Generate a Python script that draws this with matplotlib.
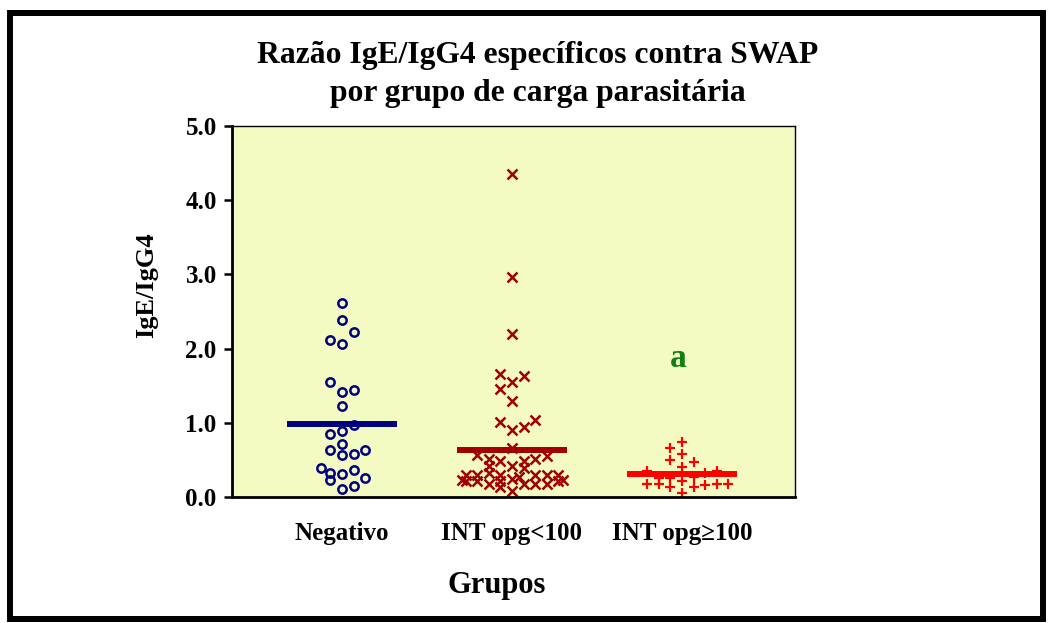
import numpy as np
import matplotlib
matplotlib.use("Agg")
import matplotlib.pyplot as plt
from matplotlib.patches import Rectangle

plt.rcParams['font.family'] = ['Liberation Serif', 'DejaVu Serif']
plt.rcParams['font.weight'] = 'bold'

groups = ['Negativo', 'INT opg<100', 'INT opg\u2265100']

# values, with the column each point sits in
neg_vals = [2.62, 2.38, 2.22, 2.11, 2.06, 1.55, 1.41, 1.44, 1.23, 0.97,
            0.89, 0.85, 0.71, 0.63, 0.58, 0.56, 0.63, 0.39, 0.33, 0.23,
            0.31, 0.36, 0.25, 0.11, 0.15]
neg_col = [0, 0, 1, -1, 0, -1, 0, 1, 0, 1,
           0, -1, 0, -1, 1, 0, 2, -1.8, -1, -1,
           0, 1, 2, 0, 1]

low_vals = [4.35, 2.96, 2.20, 1.66, 1.63, 1.55, 1.45, 1.30, 1.01, 1.04,
            0.90, 0.94, 0.66, 0.57, 0.55, 0.51, 0.48, 0.48, 0.51, 0.42,
            0.42, 0.39, 0.30, 0.30, 0.33, 0.30, 0.30, 0.30, 0.30, 0.23,
            0.21, 0.18, 0.21, 0.24, 0.27, 0.18, 0.18, 0.18, 0.21, 0.23,
            0.08, 0.14, 0.21]
low_col = [0, 0, 0, -1, 1, 0, -1, 0, -1, 2,
           0, 1, 0, -3, 3, -2, -1, 1, 2, -2,
           0, 1, -4, -3, -2, -1, 2, 3, 4, -4.3,
           -3, -2, -1, 0, 0.6, 1, 2, 3, 4, 4.4,
           0, -1, -4]

high_vals = [0.74, 0.66, 0.58, 0.50, 0.47, 0.40, 0.35, 0.35, 0.32, 0.25,
             0.25, 0.27, 0.22, 0.18, 0.18, 0.18, 0.18, 0.14, 0.14, 0.16,
             0.06]
high_col = [0, -1, 0, -1, 1, 0, -3, 3, 2, -2,
            -1, 1, 0, -3, -2, 3, 4, -1, 1, 2,
            0]

means = [0.98, 0.63, 0.31]
yticks = [0.0, 1.0, 2.0, 3.0, 4.0, 5.0]

colors = ['#000080', '#A00000', '#FF0000']
step = 0.068

fig = plt.figure(figsize=(10.51, 6.23), dpi=100)
ax = fig.add_axes([232 / 1051, 1 - 497 / 623, 563 / 1051, 371 / 623])
ax.set_facecolor('#F4FBC2')

ax.plot(1 + np.array(neg_col) * step, neg_vals, 'o', ls='none', mfc='none',
        mec=colors[0], mew=1.8, ms=6)
ax.plot(2 + np.array(low_col) * step, low_vals, 'x', ls='none',
        color=colors[1], mew=1.8, ms=6.5)
ax.plot(3 + np.array(high_col) * step, high_vals, '+', ls='none',
        color=colors[2], mew=1.6, ms=7)

for i, m in enumerate(means):
    ax.hlines(m, i + 1 - 0.325, i + 1 + 0.325, color=colors[i], lw=4.3, zorder=3)

ax.text(2.98, 1.86, 'a', color='#108010', fontsize=24, ha='center', va='center',
        fontweight='bold')

ax.set_xlim(0.353, 3.665)
ax.set_ylim(0, 5)
ax.set_xticks([1, 2, 3])
ax.set_xticklabels(groups, fontsize=18, fontweight='bold')
ax.set_yticks(yticks)
ax.set_yticklabels(['%.1f' % v for v in yticks], fontsize=18, fontweight='bold')
ax.tick_params(axis='x', length=0, pad=18)
ax.tick_params(axis='y', length=6, width=1.8, pad=5)
for s in ['left', 'bottom']:
    ax.spines[s].set_linewidth(2)
for s in ['top', 'right']:
    ax.spines[s].set_linewidth(1)

fig.text(538 / 1051, 1 - 56 / 623, 'Razão IgE/IgG4 específicos contra SWAP',
         fontsize=22.8, fontweight='bold', ha='center', va='center')
fig.text(538 / 1051, 1 - 93 / 623, 'por grupo de carga parasitária',
         fontsize=22.8, fontweight='bold', ha='center', va='center')
fig.text(497 / 1051, 1 - 585 / 623, 'Grupos', fontsize=22, fontweight='bold',
         ha='center', va='center')
fig.text(147 / 1051, 1 - 285 / 623, 'IgE/IgG4', fontsize=19, fontweight='bold',
         ha='center', va='center', rotation=90)

fig.patches.append(Rectangle((10 / 1051, 4 / 623), 1033 / 1051, 606 / 623,
                             transform=fig.transFigure, fill=False,
                             edgecolor='black', lw=4.3))

fig.savefig('out.png', dpi=100)
